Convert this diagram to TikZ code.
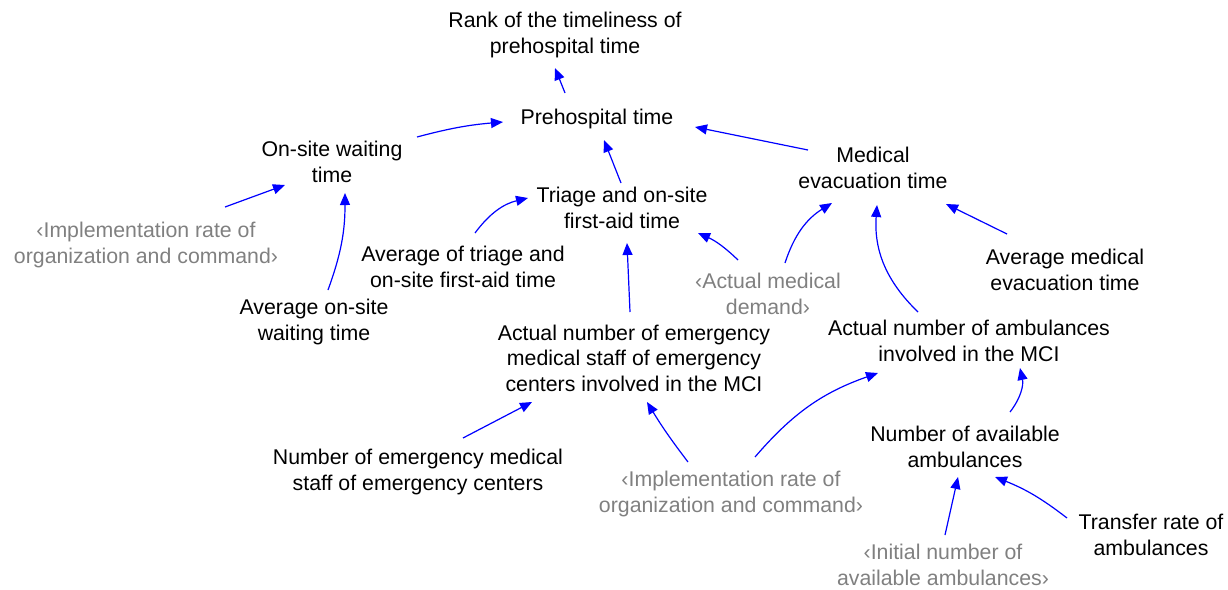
\documentclass[tikz,border=0pt]{standalone}
\usepackage{fontspec}
\setmainfont{Liberation Sans}
\usetikzlibrary{arrows.meta,calc}
\definecolor{arrblue}{RGB}{0,0,255}
\definecolor{shadowgray}{RGB}{128,128,128}
\begin{document}
\begin{tikzpicture}[x=1pt,y=-1pt,
  var/.style={align=center,inner sep=0pt,font=\fontsize{21.3}{25.6}\selectfont,text=black},
  shadowvar/.style={var,text=shadowgray},
  arr/.style={draw=arrblue,line width=1.2pt,-{Triangle[length=12pt,width=10pt]}}]
\useasboundingbox (0,0) rectangle (1228,589);
\node[var] (rank) at (565,35) {Rank of the timeliness of\\prehospital time};
\node[var] (pre) at (597,119) {Prehospital time};
\node[var] (onsite) at (332,162) {On-site waiting\\time};
\node[var] (triage) at (622,208) {Triage and on-site\\first-aid time};
\node[var] (medevac) at (873,168) {Medical\\evacuation time};
\node[shadowvar] (implA) at (146,245) {‹Implementation rate of\\organization and command›};
\node[var] (avgtri) at (463,267) {Average of triage and\\on-site first-aid time};
\node[shadowvar] (amd) at (768,294) {‹Actual medical\\demand›};
\node[var] (avgmed) at (1065,270) {Average medical\\evacuation time};
\node[var] (avgon) at (314,322) {Average on-site\\waiting time};
\node[var] (staff) at (634,358) {Actual number of emergency\\medical staff of emergency\\centers involved in the MCI};
\node[var] (amb) at (969,341) {Actual number of ambulances\\involved in the MCI};
\node[var] (avail) at (965,447) {Number of available\\ambulances};
\node[var] (numstaff) at (418,472) {Number of emergency medical\\staff of emergency centers};
\node[shadowvar] (implB) at (731,494) {‹Implementation rate of\\organization and command›};
\node[var] (transfer) at (1151,535) {Transfer rate of\\ambulances};
\node[shadowvar] (initial) at (943,565) {‹Initial number of\\available ambulances›};

\draw[arr] ($(pre)+(-32,-26)$) -- ($(rank)+(-10,33)$);
\draw[arr] ($(onsite)+(85,-25)$) to[bend left=5] ($(pre)+(-94,3)$);
\draw[arr] ($(medevac)+(-65,-18)$) -- ($(pre)+(98,8)$);
\draw[arr] ($(triage)+(-1,-25)$) -- ($(pre)+(7,21)$);
\draw[arr] ($(implA)+(79,-38)$) -- ($(onsite)+(-47,23)$);
\draw[arr] ($(avgon)+(14,-32)$) to[bend right=10] ($(onsite)+(13,31)$);
\draw[arr] ($(avgtri)+(12,-34)$) to[bend left=20] ($(triage)+(-94,-10)$);
\draw[arr] ($(amd)+(-30,-34)$) to[bend right=10] ($(triage)+(76,25)$);
\draw[arr] ($(amd)+(17,-31)$) to[bend left=20] ($(medevac)+(-41,35)$);
\draw[arr] ($(avgmed)+(-58,-36)$) -- ($(medevac)+(73,36)$);
\draw[arr] ($(amb)+(-51,-29)$) to[bend left=25] ($(medevac)+(4,37)$);
\draw[arr] ($(staff)+(-4,-46)$) -- ($(triage)+(5,35)$);
\draw[arr] ($(numstaff)+(45,-34)$) -- ($(staff)+(-102,44)$);
\draw[arr] ($(implB)+(-43,-32)$) to[bend left=3] ($(staff)+(13,44)$);
\draw[arr] ($(implB)+(24,-37)$) to[bend left=15] ($(amb)+(-91,32)$);
\draw[arr] ($(avail)+(45,-35)$) to[bend right=25] ($(amb)+(51,27)$);
\draw[arr] ($(initial)+(2,-30)$) -- ($(avail)+(-7,30)$);
\draw[arr] ($(transfer)+(-84,-17)$) to[bend right=8] ($(avail)+(30,30)$);
\end{tikzpicture}
\end{document}
